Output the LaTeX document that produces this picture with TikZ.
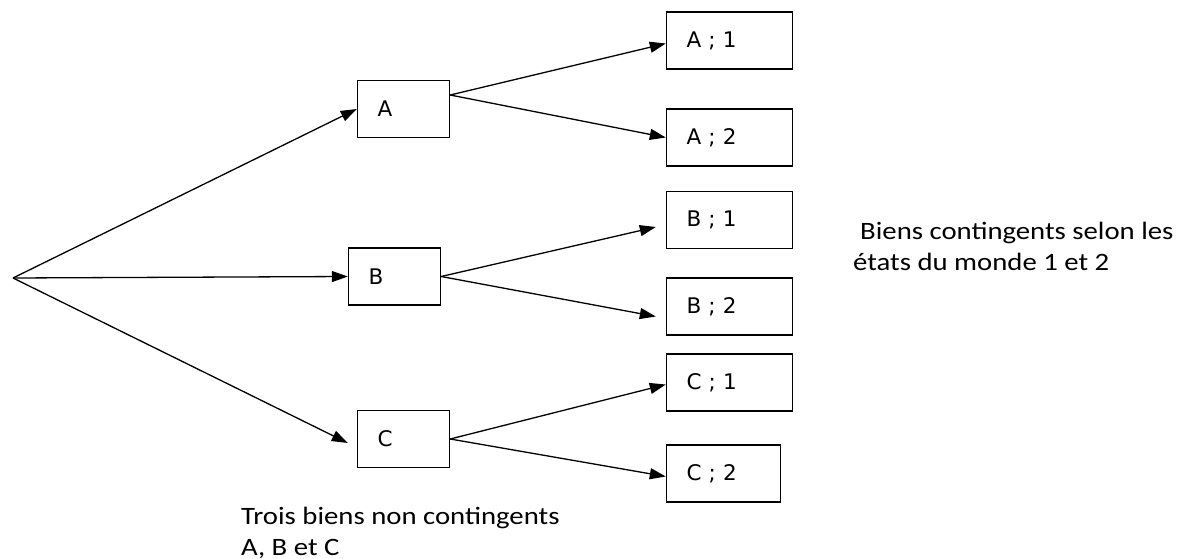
\documentclass[tikz,border=0pt]{standalone}
\usepackage{fontspec}
\usetikzlibrary{arrows.meta}
\newfontfamily\boxfont{DejaVu Sans}
\newfontfamily\notefont[FakeStretch=1.15]{Carlito}

\begin{document}
\begin{tikzpicture}[x=1pt,y=-1pt,
        bien/.style={draw,line width=1.4pt,minimum height=57pt,inner xsep=20pt,text width=#1,align=left,font=\boxfont\fontsize{21.5}{25}\selectfont},
        fleche/.style={-{Triangle[length=16pt,width=11pt]},line width=1.3pt},
        note/.style={anchor=base west,align=left,inner sep=0pt,font=\notefont\fontsize{25}{31}\selectfont}]
        \useasboundingbox (0,0) rectangle (1186,559);
        \coordinate (O) at (13,278);
        % biens non contingents
        \node [bien=52pt] (A) at (403.5,109) {A};
        \node [bien=52pt] (B) at (394.5,276.5) {B};
        \node [bien=52pt] (C) at (403.5,439) {C};
        % biens contingents
        \node [bien=86pt] (A1) at (729.5,40.5) {A ; 1};
        \node [bien=86pt] (A2) at (729.5,137.5) {A ; 2};
        \node [bien=86pt] (B1) at (729.5,220) {B ; 1};
        \node [bien=86pt] (B2) at (729.5,306.5) {B ; 2};
        \node [bien=86pt] (C1) at (729.5,382.5) {C ; 1};
        \node [bien=74pt] (C2) at (723.5,473.5) {C ; 2};
        \draw [fleche] (O)--(A.west);
        \draw [fleche] (O)--(B.west);
        \draw [fleche] (O)--([xshift=-9pt,yshift=-4pt]C.west);
        \draw [fleche] ([yshift=14pt]A.east)--([yshift=-3pt]A1.west);
        \draw [fleche] ([yshift=14pt]A.east)--(A2.west);
        \draw [fleche] (B.east)--([xshift=-10pt,yshift=-7pt]B1.west);
        \draw [fleche] (B.east)--([xshift=-10pt,yshift=-10pt]B2.west);
        \draw [fleche] (C.east)--([yshift=-2pt]C1.west);
        \draw [fleche] (C.east)--([yshift=-3pt]C2.west);
        \node [note] (etats) at (853,270) {\hspace*{7pt}Biens contingents selon les\\états du monde 1 et 2};
        \node [note] (trois) at (241,555) {Trois biens non contingents\\A, B et C};
    \end{tikzpicture}
\end{document}
